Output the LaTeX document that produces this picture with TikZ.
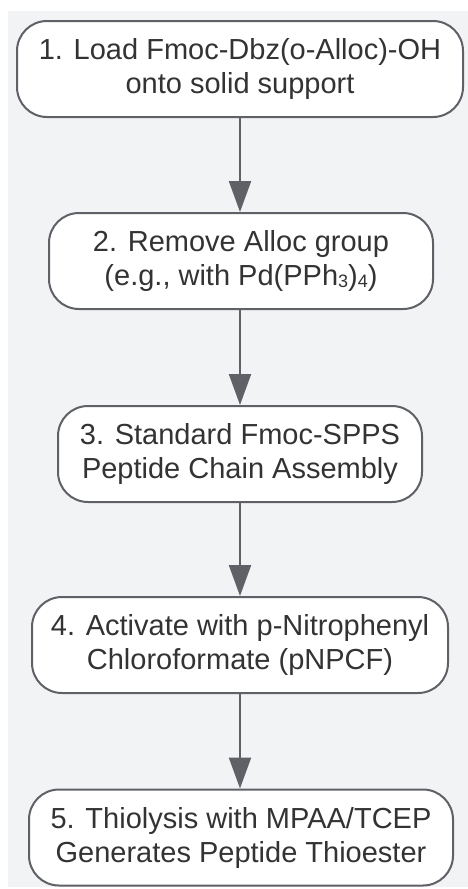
\documentclass[tikz,border=0pt]{standalone}
\usepackage{fontspec}
\setmainfont{Liberation Sans}
\usetikzlibrary{arrows.meta}
\definecolor{bggray}{HTML}{F2F3F5}
\definecolor{edgegray}{HTML}{5F6166}
\definecolor{txt}{HTML}{333333}
\newcommand{\subdig}[1]{\raisebox{-1.5pt}{\fontsize{18}{18}\selectfont #1}}
\tikzset{
  stepbox/.style={draw=edgegray, line width=2pt, fill=white, rounded corners=30pt,
    minimum height=96pt, inner sep=0pt, align=center, text=txt,
    font=\fontsize{29}{34}\selectfont},
  flow/.style={draw=edgegray, line width=2.2pt,
    -{Triangle[length=31pt,width=22pt]}}
}
\begin{document}
\begin{tikzpicture}[x=1pt,y=1pt]
\useasboundingbox (0,0) rectangle (468,-889);
\fill[bggray] (8,-11) rectangle (468,-887);
\node[stepbox, minimum width=446pt] (s1) at (240,-69) {1. Load Fmoc-Dbz(o-Alloc)-OH\\onto solid support};
\node[stepbox, minimum width=384pt] (s2) at (241,-261) {2. Remove Alloc group\\(e.g., with Pd(PPh\subdig{3})\subdig{4})};
\node[stepbox, minimum width=364pt] (s3) at (240,-454) {3. Standard Fmoc-SPPS\\Peptide Chain Assembly};
\node[stepbox, minimum width=416pt] (s4) at (240,-645) {4. Activate with p-Nitrophenyl\\Chloroformate (pNPCF)};
\node[stepbox, minimum width=424pt] (s5) at (241,-837.5) {5. Thiolysis with MPAA/TCEP\\Generates Peptide Thioester};
\draw[flow] (s1.south -| 240,0) -- (s2.north -| 240,0);
\draw[flow] (s2.south -| 240,0) -- (s3.north -| 240,0);
\draw[flow] (s3.south -| 240,0) -- (s4.north -| 240,0);
\draw[flow] (s4.south -| 240,0) -- (s5.north -| 240,0);
\end{tikzpicture}
\end{document}
